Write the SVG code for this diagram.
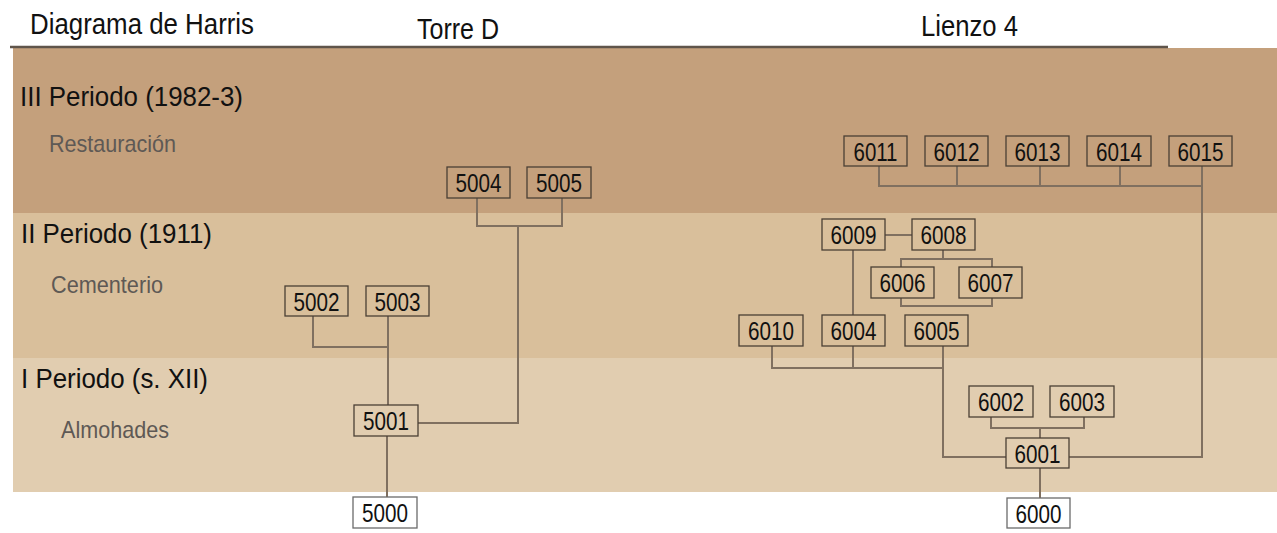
<svg xmlns="http://www.w3.org/2000/svg" width="1277" height="533" viewBox="0 0 1277 533">
<style>
.hdr{font-family:"Liberation Sans",Arial,sans-serif;font-size:29px;fill:#111}
.per{font-family:"Liberation Sans",Arial,sans-serif;font-size:28px;fill:#111}
.sub{font-family:"Liberation Sans",Arial,sans-serif;font-size:24px;fill:#5e5955}
.num{font-family:"Liberation Sans",Arial,sans-serif;font-size:26px;fill:#111;text-anchor:middle}
.box{stroke:#4a3f35;stroke-width:1.3}
.b3{fill:#c4a07c}.b2{fill:#d9bf9b}.b1{fill:#e1cdb0}.bw{fill:#ffffff;stroke:#6b6b6b}
.con{fill:none;stroke:#807060;stroke-width:2}
</style>
<rect width="1277" height="533" fill="#ffffff"/>
<g id="bands">
<rect x="13" y="48" width="1264" height="165" fill="#c4a07c"/>
<rect x="13" y="213" width="1264" height="145" fill="#d9bf9b"/>
<rect x="13" y="358" width="1264" height="134" fill="#e1cdb0"/>
<line x1="10" y1="47" x2="1168" y2="47" stroke="#5f554b" stroke-width="2.5"/>
</g>
<g id="headers">
<text class="hdr" x="30" y="34" textLength="224" lengthAdjust="spacingAndGlyphs">Diagrama de Harris</text>
<text class="hdr" x="417" y="39" textLength="82" lengthAdjust="spacingAndGlyphs">Torre D</text>
<text class="hdr" x="921" y="36" textLength="97" lengthAdjust="spacingAndGlyphs">Lienzo 4</text>
</g>
<g id="periods">
<text class="per" x="20" y="106" textLength="223" lengthAdjust="spacingAndGlyphs">III Periodo (1982-3)</text>
<text class="sub" x="49" y="152" textLength="127" lengthAdjust="spacingAndGlyphs">Restauración</text>
<text class="per" x="21" y="243" textLength="191" lengthAdjust="spacingAndGlyphs">II Periodo (1911)</text>
<text class="sub" x="51" y="293" textLength="112" lengthAdjust="spacingAndGlyphs">Cementerio</text>
<text class="per" x="21" y="388" textLength="187" lengthAdjust="spacingAndGlyphs">I Periodo (s. XII)</text>
<text class="sub" x="61" y="438" textLength="108" lengthAdjust="spacingAndGlyphs">Almohades</text>
</g>
<g id="connectors" class="con">
<path d="M477 198V226H562V198M518 226V423H418"/>
<path d="M313 316V347H388M388 316V405"/>
<path d="M387 436V497"/>
<path d="M879 166V186H1202M957 166V186M1040 166V186M1120 166V186M1202 166V457H1069"/>
<path d="M885 235H912"/>
<path d="M943 250V259M901 259H992V306H901Z"/>
<path d="M853 250V315M853 346V368"/>
<path d="M772 346V368H943M943 346V457H1006"/>
<path d="M991 417V428H1084V417M1040 428V438"/>
<path d="M1040 468V498"/>
</g>
<g id="n5004"><rect class="box b3" x="447" y="167" width="63" height="31"/><text class="num" x="478.5" y="192" textLength="46" lengthAdjust="spacingAndGlyphs">5004</text></g>
<g id="n5005"><rect class="box b3" x="527" y="167" width="64" height="31"/><text class="num" x="559" y="192" textLength="46" lengthAdjust="spacingAndGlyphs">5005</text></g>
<g id="n5002"><rect class="box b2" x="285" y="286" width="63" height="30"/><text class="num" x="316.5" y="311" textLength="46" lengthAdjust="spacingAndGlyphs">5002</text></g>
<g id="n5003"><rect class="box b2" x="366" y="286" width="63" height="30"/><text class="num" x="397.5" y="311" textLength="46" lengthAdjust="spacingAndGlyphs">5003</text></g>
<g id="n5001"><rect class="box b1" x="354" y="405" width="64" height="31"/><text class="num" x="386" y="430" textLength="46" lengthAdjust="spacingAndGlyphs">5001</text></g>
<g id="n5000"><rect class="box bw" x="353" y="497" width="64" height="31"/><text class="num" x="385" y="522" textLength="46" lengthAdjust="spacingAndGlyphs">5000</text></g>
<g id="n6011"><rect class="box b3" x="844" y="136" width="63" height="30"/><text class="num" x="875.5" y="161" textLength="44" lengthAdjust="spacingAndGlyphs">6011</text></g>
<g id="n6012"><rect class="box b3" x="925" y="136" width="63" height="30"/><text class="num" x="956.5" y="161" textLength="46" lengthAdjust="spacingAndGlyphs">6012</text></g>
<g id="n6013"><rect class="box b3" x="1006" y="136" width="63" height="30"/><text class="num" x="1037.5" y="161" textLength="46" lengthAdjust="spacingAndGlyphs">6013</text></g>
<g id="n6014"><rect class="box b3" x="1087" y="136" width="64" height="30"/><text class="num" x="1119" y="161" textLength="46" lengthAdjust="spacingAndGlyphs">6014</text></g>
<g id="n6015"><rect class="box b3" x="1169" y="136" width="63" height="30"/><text class="num" x="1200.5" y="161" textLength="46" lengthAdjust="spacingAndGlyphs">6015</text></g>
<g id="n6009"><rect class="box b2" x="822" y="219" width="63" height="31"/><text class="num" x="853.5" y="244" textLength="46" lengthAdjust="spacingAndGlyphs">6009</text></g>
<g id="n6008"><rect class="box b2" x="912" y="219" width="63" height="31"/><text class="num" x="943.5" y="244" textLength="46" lengthAdjust="spacingAndGlyphs">6008</text></g>
<g id="n6006"><rect class="box b2" x="871" y="267" width="63" height="31"/><text class="num" x="902.5" y="292" textLength="46" lengthAdjust="spacingAndGlyphs">6006</text></g>
<g id="n6007"><rect class="box b2" x="959" y="267" width="63" height="31"/><text class="num" x="990.5" y="292" textLength="46" lengthAdjust="spacingAndGlyphs">6007</text></g>
<g id="n6010"><rect class="box b2" x="739" y="315" width="64" height="31"/><text class="num" x="771" y="340" textLength="46" lengthAdjust="spacingAndGlyphs">6010</text></g>
<g id="n6004"><rect class="box b2" x="822" y="315" width="63" height="31"/><text class="num" x="853.5" y="340" textLength="46" lengthAdjust="spacingAndGlyphs">6004</text></g>
<g id="n6005"><rect class="box b2" x="905" y="315" width="63" height="31"/><text class="num" x="936.5" y="340" textLength="46" lengthAdjust="spacingAndGlyphs">6005</text></g>
<g id="n6002"><rect class="box b1" x="969" y="386" width="64" height="31"/><text class="num" x="1001" y="411" textLength="46" lengthAdjust="spacingAndGlyphs">6002</text></g>
<g id="n6003"><rect class="box b1" x="1050" y="386" width="64" height="31"/><text class="num" x="1082" y="411" textLength="46" lengthAdjust="spacingAndGlyphs">6003</text></g>
<g id="n6001"><rect class="box b1" x="1006" y="438" width="63" height="30"/><text class="num" x="1037.5" y="463" textLength="46" lengthAdjust="spacingAndGlyphs">6001</text></g>
<g id="n6000"><rect class="box bw" x="1007" y="498" width="63" height="30"/><text class="num" x="1038.5" y="523" textLength="46" lengthAdjust="spacingAndGlyphs">6000</text></g>
</svg>
